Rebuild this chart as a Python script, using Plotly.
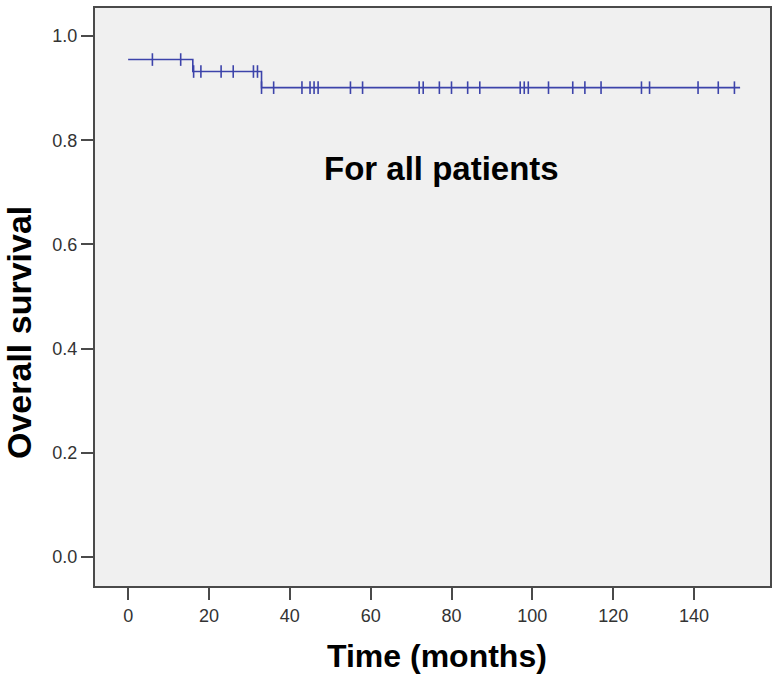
import plotly.graph_objects as go

# Kaplan-Meier step data
step_times = [0, 16, 33, 151.4]
step_surv = [0.955, 0.932, 0.901, 0.901]

# censored observation times
censor_times = [6, 13, 16.2, 18, 23, 26, 31, 32, 33, 36, 43, 45, 46, 47, 55, 58,
                72, 73, 77, 80, 84, 87, 97, 98, 99, 104, 110, 113, 117, 127, 129,
                141, 146, 150]

x_ticks = [0, 20, 40, 60, 80, 100, 120, 140]
y_ticks = [0.0, 0.2, 0.4, 0.6, 0.8, 1.0]
y_tick_labels = ["0.0", "0.2", "0.4", "0.6", "0.8", "1.0"]


def surv_at(t):
    s = step_surv[0]
    for tt, ss in zip(step_times, step_surv):
        if t >= tt:
            s = ss
    return s


censor_surv = [surv_at(t) for t in censor_times]

line_color = "#3c43aa"

fig = go.Figure()
fig.add_trace(go.Scatter(
    x=step_times, y=step_surv, mode="lines",
    line=dict(color=line_color, width=1.6, shape="hv"),
    showlegend=False, hoverinfo="skip"))
fig.add_trace(go.Scatter(
    x=censor_times, y=censor_surv, mode="markers",
    marker=dict(symbol="line-ns-open", size=9, color=line_color,
                line=dict(color=line_color, width=1.6)),
    showlegend=False))

axis_common = dict(
    showgrid=False, zeroline=False, showline=True, mirror=True,
    linecolor="#4a4a4a", linewidth=2,
    ticks="outside", ticklen=12, tickwidth=2, tickcolor="#4a4a4a",
    tickfont=dict(family="Liberation Sans, Arial, sans-serif", size=18, color="#333333"),
)

fig.update_xaxes(range=[-8.2, 158.8], tickvals=x_ticks, **axis_common)
fig.update_yaxes(range=[-0.056, 1.054], tickvals=y_ticks, ticktext=y_tick_labels, **axis_common)

fam = "Liberation Sans, Arial, sans-serif"

fig.update_layout(
    width=778, height=681,
    margin=dict(l=95, r=6, t=7, b=95),
    paper_bgcolor="#ffffff",
    plot_bgcolor="#f0f0f0",
    annotations=[
        dict(text="<b>For all patients</b>", xref="x", yref="y", x=77.5, y=0.745,
             showarrow=False, font=dict(family=fam, size=33, color="#000000")),
        dict(text="<b>Time (months)</b>", xref="paper", yref="paper", x=0.5, y=0,
             yshift=-70, xshift=4, yanchor="middle", showarrow=False,
             font=dict(family=fam, size=32, color="#000000")),
        dict(text="<b>Overall survival</b>", xref="paper", yref="paper", x=0, y=0.5,
             xshift=-76, yshift=-36, textangle=-90, xanchor="center", yanchor="middle",
             showarrow=False, font=dict(family=fam, size=34, color="#000000")),
    ],
)

fig.write_html("out.html", config={"displayModeBar": False},
               post_script="document.body.style.margin='0';")
